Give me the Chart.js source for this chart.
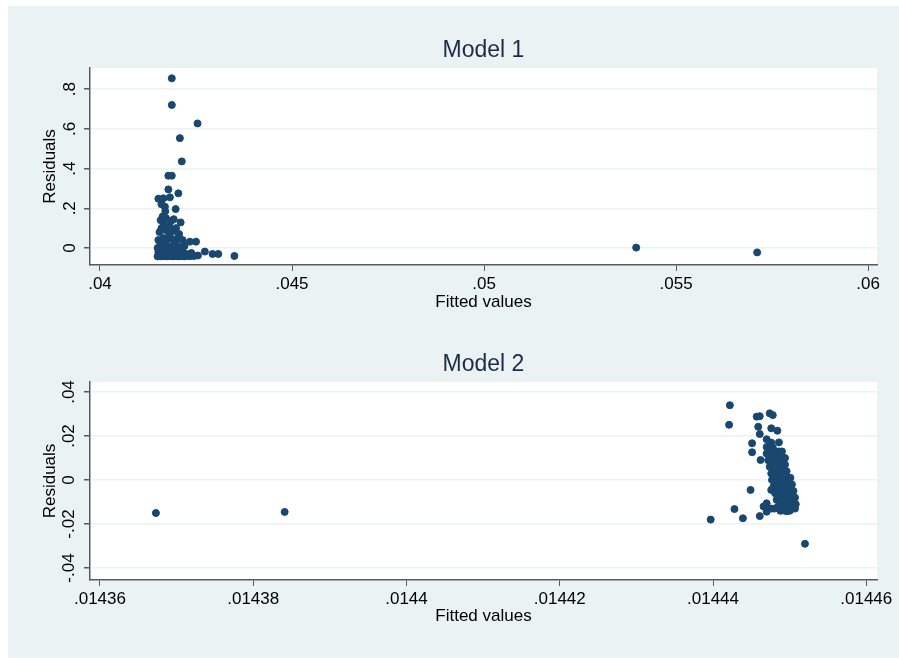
<!DOCTYPE html>
<html>
<head>
<meta charset="utf-8">
<script src="https://cdn.jsdelivr.net/npm/chart.js@4/dist/chart.umd.min.js"></script>
<style>
  html, body { margin: 0; padding: 0; background: #ffffff; }
  #frame { position: absolute; left: 8px; top: 6px; width: 891px; height: 652px; background: #eaf2f3; }
  canvas { position: absolute; left: 0; }
  #c1 { top: 0; }
  #c2 { top: 329px; }
</style>
</head>
<body>
<div id="frame"></div>
<canvas id="c1" width="899" height="329"></canvas>
<canvas id="c2" width="899" height="329"></canvas>
<script>
// Model 1: fitted values vs residuals
var model1X = [
  0.04187, 0.04187, 0.04254, 0.04208, 0.04213, 0.04178, 0.04187, 0.04178, 0.04204,
  0.04152, 0.04165, 0.04182, 0.04169, 0.04197, 0.04163, 0.04210, 0.04234, 0.04250,
  0.04273, 0.04293, 0.04308, 0.04350, 0.05396, 0.05711,
  0.04150, 0.04155, 0.04160, 0.04165, 0.04170, 0.04175, 0.04180, 0.04185, 0.04190,
  0.04195, 0.04200, 0.04205, 0.04210, 0.04215, 0.04220, 0.04228, 0.04235, 0.04245, 0.04255,
  0.04152, 0.04158, 0.04164, 0.04170, 0.04176, 0.04182, 0.04188, 0.04194, 0.04200,
  0.04208, 0.04216, 0.04224, 0.04238,
  0.04150, 0.04156, 0.04162, 0.04168, 0.04174, 0.04180, 0.04186, 0.04192, 0.04198,
  0.04205, 0.04212, 0.04220,
  0.04152, 0.04158, 0.04165, 0.04172, 0.04180, 0.04188, 0.04196, 0.04204, 0.04215,
  0.04155, 0.04160, 0.04166, 0.04172, 0.04180, 0.04190, 0.04198, 0.04206,
  0.04158, 0.04166, 0.04172, 0.04185, 0.04192, 0.04160, 0.04170
];
var model1Y = [
  0.854, 0.720, 0.627, 0.553, 0.436, 0.364, 0.364, 0.295, 0.275,
  0.248, 0.250, 0.255, 0.208, 0.196, 0.158, 0.129, 0.032, 0.032,
  -0.018, -0.030, -0.030, -0.040, 0.002, -0.022,
  -0.042, -0.041, -0.042, -0.040, -0.041, -0.042, -0.040, -0.041, -0.042,
  -0.040, -0.041, -0.042, -0.040, -0.041, -0.042, -0.040, -0.041, -0.040, -0.038,
  -0.020, -0.025, -0.020, -0.028, -0.018, -0.024, -0.020, -0.030, -0.022,
  -0.027, -0.020, -0.030, -0.025,
  0.000, 0.010, -0.005, 0.005, 0.012, -0.008, 0.003, 0.015, -0.010,
  0.006, -0.004, 0.010,
  0.040, 0.030, 0.050, 0.035, 0.060, 0.045, 0.030, 0.055, 0.040,
  0.080, 0.100, 0.120, 0.090, 0.110, 0.085, 0.100, 0.070,
  0.140, 0.160, 0.150, 0.135, 0.145, 0.220, 0.185
];
var model1XTicks = [0.04, 0.045, 0.05, 0.055, 0.06];
var model1XLabels = [".04", ".045", ".05", ".055", ".06"];
var model1YTicks = [0, 0.2, 0.4, 0.6, 0.8];
var model1YLabels = ["0", ".2", ".4", ".6", ".8"];

// Model 2: fitted values vs residuals
var model2X = [
  0.0143673, 0.0143841, 0.0144397, 0.0144520, 0.0144422, 0.0144421, 0.0144428, 0.0144439,
  0.0144449, 0.0144461, 0.0144451, 0.0144451, 0.0144457, 0.0144461, 0.0144474, 0.0144478,
  0.0144459, 0.0144461, 0.0144470, 0.0144476, 0.0144476, 0.0144484, 0.0144486, 0.0144462,
  0.0144476, 0.0144470, 0.0144470, 0.0144466, 0.0144472,
  0.0144470, 0.0144474, 0.0144478,
  0.0144470, 0.0144474, 0.0144478, 0.0144482,
  0.0144472, 0.0144476, 0.0144480, 0.0144484,
  0.0144474, 0.0144478, 0.0144482, 0.0144486,
  0.0144476, 0.0144480, 0.0144484, 0.0144488,
  0.0144477, 0.0144481, 0.0144485, 0.0144489, 0.0144493,
  0.0144479, 0.0144483, 0.0144487, 0.0144491, 0.0144495,
  0.0144481, 0.0144485, 0.0144489, 0.0144493, 0.0144497,
  0.0144483, 0.0144487, 0.0144491, 0.0144495, 0.0144499, 0.0144503,
  0.0144485, 0.0144489, 0.0144493, 0.0144497, 0.0144501, 0.0144505,
  0.0144488, 0.0144492, 0.0144496, 0.0144500, 0.0144504,
  0.0144482, 0.0144486, 0.0144490,
  0.0144486, 0.0144490, 0.0144494,
  0.0144490, 0.0144494,
  0.0144492, 0.0144496,
  0.0144497, 0.0144501,
  0.0144499, 0.0144503,
  0.0144501, 0.0144505,
  0.0144503, 0.0144507,
  0.0144505, 0.0144508,
  0.0144480, 0.0144476, 0.0144507
];
var model2Y = [
  -0.0150, -0.0145, -0.0180, -0.0290, 0.0340, 0.0251, -0.0132, -0.0174,
  -0.0045, -0.0164, 0.0167, 0.0126, 0.0288, 0.0290, 0.0303, 0.0295,
  0.0242, 0.0209, 0.0185, 0.0170, 0.0235, 0.0224, 0.0171, 0.0091,
  -0.0045, -0.0106, -0.0144, -0.0120, -0.0130,
  0.0150, 0.0155, 0.0148,
  0.0120, 0.0122, 0.0118, 0.0115,
  0.0090, 0.0092, 0.0088, 0.0085,
  0.0060, 0.0062, 0.0058, 0.0055,
  0.0030, 0.0032, 0.0028, 0.0025,
  0.0000, 0.0002, -0.0002, 0.0000, -0.0004,
  -0.0030, -0.0028, -0.0032, -0.0030, -0.0034,
  -0.0060, -0.0058, -0.0062, -0.0060, -0.0064,
  -0.0090, -0.0088, -0.0092, -0.0090, -0.0094, -0.0085,
  -0.0120, -0.0118, -0.0122, -0.0120, -0.0124, -0.0115,
  -0.0140, -0.0138, -0.0142, -0.0140, -0.0130,
  0.0130, 0.0130, 0.0130,
  0.0100, 0.0100, 0.0100,
  0.0070, 0.0070,
  0.0040, 0.0040,
  0.0010, 0.0010,
  -0.0020, -0.0020,
  -0.0050, -0.0050,
  -0.0080, -0.0080,
  -0.0110, -0.0110,
  -0.0130, -0.0130, -0.0130
];
var model2XTicks = [0.01436, 0.01438, 0.0144, 0.01442, 0.01444, 0.01446];
var model2XLabels = [".01436", ".01438", ".0144", ".01442", ".01444", ".01446"];
var model2YTicks = [-0.04, -0.02, 0, 0.02, 0.04];
var model2YLabels = ["-.04", "-.02", "0", ".02", ".04"];

var dotColor = "#1a476f";
var gridColor = "#eaf2f3";
var axisColor = "#5a5a5a";

var whitePlot = {
  id: "whitePlot",
  beforeDraw: function(chart) {
    var a = chart.chartArea;
    var ctx = chart.ctx;
    ctx.save();
    ctx.fillStyle = "#ffffff";
    ctx.fillRect(a.left, a.top, a.right - a.left, a.bottom - a.top);
    ctx.restore();
  }
};

function toPoints(xs, ys) {
  return xs.map(function(x, i) { return {x: x, y: ys[i]}; });
}

function makeChart(id, cfg) {
  return new Chart(document.getElementById(id), {
    type: "scatter",
    data: {
      datasets: [{
        data: toPoints(cfg.xs, cfg.ys),
        backgroundColor: dotColor,
        borderColor: dotColor,
        borderWidth: 1,
        pointRadius: 3.5,
        pointHoverRadius: 3.5
      }]
    },
    plugins: [whitePlot],
    options: {
      responsive: false,
      animation: false,
      layout: { padding: { left: 0, right: 22, top: 0, bottom: 0 } },
      plugins: {
        legend: { display: false },
        tooltip: { enabled: false },
        title: {
          display: true,
          text: cfg.title,
          fullSize: false,
          color: "#1e2b48",
          font: { family: "Liberation Sans", size: 23, weight: "normal", lineHeight: 1.2 },
          padding: { top: cfg.titleTop, bottom: cfg.titleBottom }
        }
      },
      scales: {
        x: {
          type: "linear",
          min: cfg.xMin, max: cfg.xMax,
          afterFit: function(s) { s.height = cfg.xBoxHeight; },
          afterBuildTicks: function(s) { s.ticks = cfg.xTicks.map(function(v) { return {value: v}; }); },
          ticks: {
            color: "#000000",
            font: { family: "Liberation Sans", size: 17 },
            padding: 3,
            maxRotation: 0,
            callback: function(v) { return cfg.xLabels[cfg.xTicks.indexOf(v)]; }
          },
          grid: { drawOnChartArea: false, tickLength: 6, tickColor: axisColor },
          border: { display: true, color: axisColor, width: 1.5 },
          title: {
            display: true, text: "Fitted values", color: "#000000",
            font: { family: "Liberation Sans", size: 17, lineHeight: 1.2 },
            padding: { top: 0, bottom: cfg.xTitleBottom }
          }
        },
        y: {
          type: "linear",
          min: cfg.yMin, max: cfg.yMax,
          afterFit: function(s) { s.width = 90; },
          afterBuildTicks: function(s) { s.ticks = cfg.yTicks.map(function(v) { return {value: v}; }); },
          ticks: {
            color: "#000000",
            font: { family: "Liberation Sans", size: 17 },
            minRotation: 90, maxRotation: 90,
            crossAlign: "center",
            padding: cfg.yTickPad,
            callback: function(v) { return cfg.yLabels[cfg.yTicks.indexOf(v)]; }
          },
          grid: { color: gridColor, lineWidth: 1.5, tickLength: 6, tickColor: axisColor },
          border: { display: true, color: axisColor, width: 1.5 },
          title: {
            display: true, text: "Residuals", color: "#000000",
            font: { family: "Liberation Sans", size: 17, lineHeight: 1.2 },
            padding: { top: 40, bottom: 0 }
          }
        }
      }
    }
  });
}

makeChart("c1", {
  title: "Model 1", titleTop: 36.5, titleBottom: 3.9,
  xs: model1X, ys: model1Y,
  xMin: 0.03974, xMax: 0.06023, yMin: -0.0855, yMax: 0.906,
  xTicks: model1XTicks, xLabels: model1XLabels,
  yTicks: model1YTicks, yLabels: model1YLabels,
  xBoxHeight: 64, xTitleBottom: 16, yTickPad: 6.5
});

makeChart("c2", {
  title: "Model 2", titleTop: 21.5, titleBottom: 3.9,
  xs: model2X, ys: model2Y,
  xMin: 0.0143587, xMax: 0.0144614, yMin: -0.04545, yMax: 0.04455,
  xTicks: model2XTicks, xLabels: model2XLabels,
  yTicks: model2YTicks, yLabels: model2YLabels,
  xBoxHeight: 78, xTitleBottom: 31, yTickPad: 0
});
</script>
</body>
</html>
